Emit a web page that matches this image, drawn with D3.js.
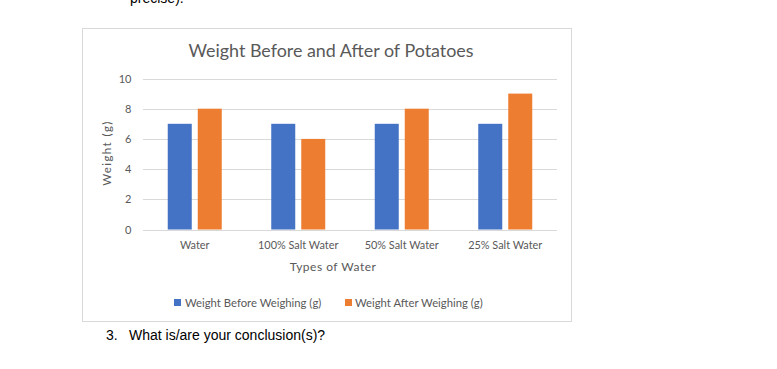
<!doctype html>
<html lang="en">
<head>
  <meta charset="UTF-8">
  <title>Weight Before and After of Potatoes</title>
  <script src="https://cdnjs.cloudflare.com/ajax/libs/d3/7.8.5/d3.min.js"></script>
  <style>
  body { margin: 0; background: #fff; }
  svg { display: block; }
  </style>
</head>
<body>
<script>

var categories = ["Water", "100% Salt Water", "50% Salt Water", "25% Salt Water"];
var seriesNames = ["Weight Before Weighing (g)", "Weight After Weighing (g)"];
var before = [7, 7, 7, 7];
var after = [8, 6, 8, 9];
var yTicks = [0, 2, 4, 6, 8, 10];
var colors = ["#4472c4", "#ed7d31"];

var w = 777, h = 369;
var chartFont = "Lato, 'Open Sans', sans-serif";

var svg = d3.select("body").append("svg")
  .attr("width", w)
  .attr("height", h);

// surrounding document text
svg.append("text")
  .attr("x", 130).attr("y", 3)
  .attr("font-family", "Arial, 'Liberation Sans', sans-serif")
  .attr("font-size", "14px")
  .attr("fill", "#000")
  .text("precise).");

svg.append("text")
  .attr("x", 106).attr("y", 340)
  .attr("font-family", "Arial, 'Liberation Sans', sans-serif")
  .attr("font-size", "14px")
  .attr("fill", "#000")
  .text("3.");
svg.append("text")
  .attr("x", 129).attr("y", 340)
  .attr("font-family", "Arial, 'Liberation Sans', sans-serif")
  .attr("font-size", "14px")
  .attr("fill", "#000")
  .text("What is/are your conclusion(s)?");

// chart frame
svg.append("rect")
  .attr("x", 82.5).attr("y", 28.5)
  .attr("width", 489).attr("height", 293)
  .attr("fill", "#fff")
  .attr("stroke", "#d9d9d9");

svg.append("text")
  .attr("x", 331).attr("y", 57)
  .attr("text-anchor", "middle")
  .attr("font-family", chartFont)
  .attr("font-size", "17.9px")
  .attr("fill", "#595959")
  .text("Weight Before and After of Potatoes");

var x0 = d3.scaleBand().domain(categories).range([143, 557]);
var x1 = d3.scaleBand().domain([0, 1]).range([0, 54]).paddingInner(0.2);
var y = d3.scaleLinear().domain([0, 10]).range([229.5, 78.5]);

// gridlines
svg.append("g").selectAll("line")
  .data(yTicks)
  .enter().append("line")
  .attr("x1", 143).attr("x2", 557)
  .attr("y1", function(d) { return Math.round(y(d)) + 0.5; })
  .attr("y2", function(d) { return Math.round(y(d)) + 0.5; })
  .attr("stroke", "#d9d9d9")
  .attr("stroke-width", 1);

svg.append("g").selectAll("text")
  .data(yTicks)
  .enter().append("text")
  .attr("x", 131.5)
  .attr("y", function(d) { return y(d) + 4; })
  .attr("text-anchor", "end")
  .attr("font-family", chartFont)
  .attr("font-size", "11px")
  .attr("fill", "#595959")
  .text(function(d) { return d; });

var rows = categories.map(function(c, i) { return { cat: c, vals: [before[i], after[i]] }; });

var groups = svg.append("g").selectAll("g")
  .data(rows)
  .enter().append("g")
  .attr("transform", function(d) {
    return "translate(" + (x0(d.cat) + (x0.bandwidth() - 54) / 2) + ",0)";
  });

groups.selectAll("rect")
  .data(function(d) { return d.vals; })
  .enter().append("rect")
  .attr("x", function(d, i) { return x1(i); })
  .attr("y", function(d) { return y(d); })
  .attr("width", x1.bandwidth())
  .attr("height", function(d) { return y(0) - y(d); })
  .attr("fill", function(d, i) { return colors[i]; });

// category labels
svg.append("g").selectAll("text")
  .data(categories)
  .enter().append("text")
  .attr("x", function(d) { return x0(d) + x0.bandwidth() / 2; })
  .attr("y", 249)
  .attr("text-anchor", "middle")
  .attr("font-family", chartFont)
  .attr("font-size", "10.9px")
  .attr("fill", "#595959")
  .text(function(d) { return d; });

svg.append("text")
  .attr("x", 333).attr("y", 271)
  .attr("text-anchor", "middle")
  .attr("font-family", chartFont)
  .attr("font-size", "12px")
  .attr("letter-spacing", "0.5px")
  .attr("fill", "#595959")
  .text("Types of Water");

svg.append("text")
  .attr("transform", "translate(111,153) rotate(-90)")
  .attr("text-anchor", "middle")
  .attr("font-family", chartFont)
  .attr("font-size", "11.5px")
  .attr("letter-spacing", "1.4px")
  .attr("fill", "#595959")
  .text("Weight (g)");

// legend
var legendX = [174, 345];
var legend = svg.append("g").selectAll("g")
  .data(seriesNames)
  .enter().append("g")
  .attr("transform", function(d, i) { return "translate(" + legendX[i] + ",299)"; });

legend.append("rect")
  .attr("width", 7).attr("height", 7)
  .attr("fill", function(d, i) { return colors[i]; });

legend.append("text")
  .attr("x", function(d, i) { return i == 0 ? 11 : 10; })
  .attr("y", 7.5)
  .attr("font-family", chartFont)
  .attr("font-size", "11.3px")
  .attr("fill", "#595959")
  .text(function(d) { return d; });

</script>
</body>
</html>
